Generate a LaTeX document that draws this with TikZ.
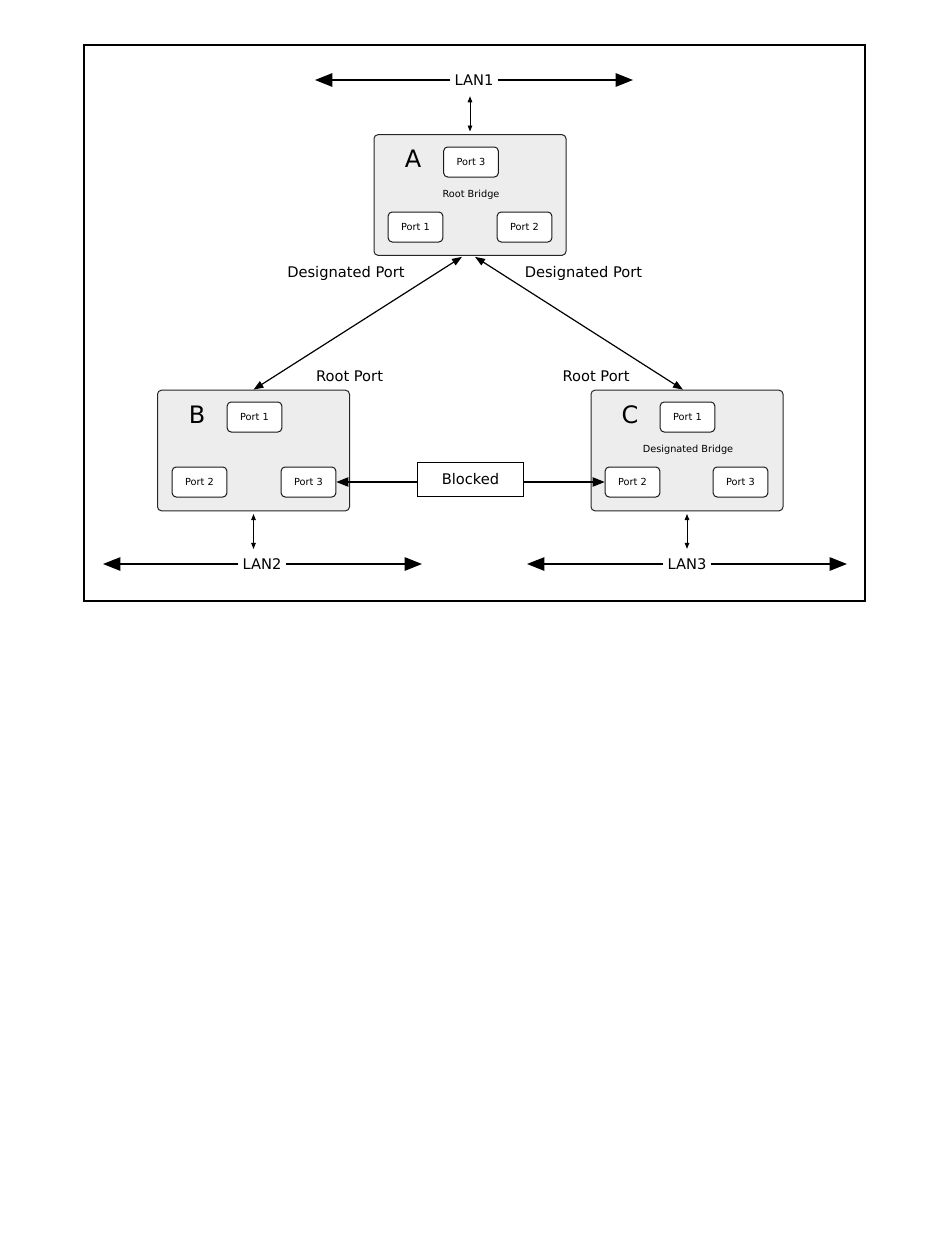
\documentclass[tikz,border=0pt]{standalone}
\usepackage{fontspec}
\setmainfont{DejaVu Sans}
\usetikzlibrary{positioning,arrows.meta,calc}

\begin{document}
\begin{tikzpicture}[
  x=0.75pt,y=-0.75pt,
  bridge/.style={rectangle,draw=black!85,line width=0.75pt,rounded corners=3pt,fill=black!7,inner sep=0pt,minimum width=144pt,minimum height=90.5pt},
  port/.style={rectangle,draw=black!90,line width=0.75pt,rounded corners=3pt,fill=white,inner sep=0pt,minimum width=41pt,minimum height=22.5pt,font=\fontsize{7.3}{8}\selectfont},
  letter/.style={font=\fontsize{18}{20}\selectfont},
  note/.style={font=\fontsize{7.3}{8}\selectfont},
  portlabel/.style={font=\fontsize{11}{13}\selectfont},
  lanlabel/.style={font=\fontsize{11}{13}\selectfont,inner sep=3pt},
  lan/.style={-{Triangle[length=13pt,width=10pt]},line width=1.2pt},
  tap/.style={{Triangle[length=4.5pt,width=3.4pt]}-{Triangle[length=4.5pt,width=3.4pt]},line width=0.7pt},
  link/.style={{Triangle[length=7.5pt,width=5.5pt]}-{Triangle[length=7.5pt,width=5.5pt]},line width=0.9pt},
  blk/.style={-{Triangle[length=9pt,width=7pt]},line width=0.8pt},
]
\fill[white] (0,0) rectangle (950,1260);
\useasboundingbox (0,0) rectangle (950,1260);

% ==== frame ====
\draw[line width=1.1pt] (84,45) rectangle (865,601);

% ==== bridge A (root) ====
\node[bridge] (A) at (470,195) {};
\node[letter] (Aname) at (413,159) {A};
\node[port] (ap3) at (471,162) {Port 3};
\node[note] (Aroot) at (471,195) {Root Bridge};
\node[port] (ap1) at (415.5,227) {Port 1};
\node[port] (ap2) at (524.5,227) {Port 2};

% ==== bridge B ====
\node[bridge] (B) at (253.5,450.5) {};
\node[letter] (Bname) at (197,415) {B};
\node[port] (bp1) at (254.5,417) {Port 1};
\node[port] (bp2) at (199.5,482) {Port 2};
\node[port] (bp3) at (308.5,482) {Port 3};

% ==== bridge C (designated) ====
\node[bridge] (C) at (687,450.5) {};
\node[letter] (Cname) at (630,415) {C};
\node[port] (cp1) at (687.5,417) {Port 1};
\node[note] (Cdes) at (688,450) {Designated Bridge};
\node[port] (cp2) at (632.5,482) {Port 2};
\node[port] (cp3) at (740.5,482) {Port 3};

% ==== port roles ====
\node[portlabel] (dpl) at (346,273) {Designated Port};
\node[portlabel] (dpr) at (583.5,273) {Designated Port};
\node[portlabel] (rpl) at (349.5,376) {Root Port};
\node[portlabel] (rpr) at (596,376) {Root Port};

\draw[link] ($(A.south)+(-8,1)$) -- (B.north);
\draw[link] ($(A.south)+(5,1)$) -- ($(C.north)+(-4,0)$);

% ==== blocked link ====
\node[rectangle,draw,line width=0.75pt,fill=white,minimum width=80pt,minimum height=25pt,portlabel] (blocked) at (470.5,479.5) {Blocked};
\draw[blk] (blocked.west|-bp3) -- (bp3.east);
\draw[blk] (blocked.east|-cp2) -- (cp2.west);

% ==== LAN segments ====
\node[lanlabel] (lan1) at (474,80) {LAN1};
\coordinate (lan1w) at (315,80);
\coordinate (lan1e) at (633,80);
\draw[lan] (lan1) -- (lan1w);
\draw[lan] (lan1) -- (lan1e);
\draw[tap,shorten <=2pt,shorten >=5pt] (A.north) -- (A.north|-lan1.south);

\node[lanlabel] (lan2) at (262,564) {LAN2};
\coordinate (lan2w) at (103,564);
\coordinate (lan2e) at (422,564);
\draw[lan] (lan2) -- (lan2w);
\draw[lan] (lan2) -- (lan2e);
\draw[tap,shorten <=2pt,shorten >=4pt] (B.south) -- (B.south|-lan2.north);

\node[lanlabel] (lan3) at (687,564) {LAN3};
\coordinate (lan3w) at (527,564);
\coordinate (lan3e) at (847,564);
\draw[lan] (lan3) -- (lan3w);
\draw[lan] (lan3) -- (lan3e);
\draw[tap,shorten <=2pt,shorten >=4pt] (C.south) -- (C.south|-lan3.north);

\end{tikzpicture}
\end{document}
